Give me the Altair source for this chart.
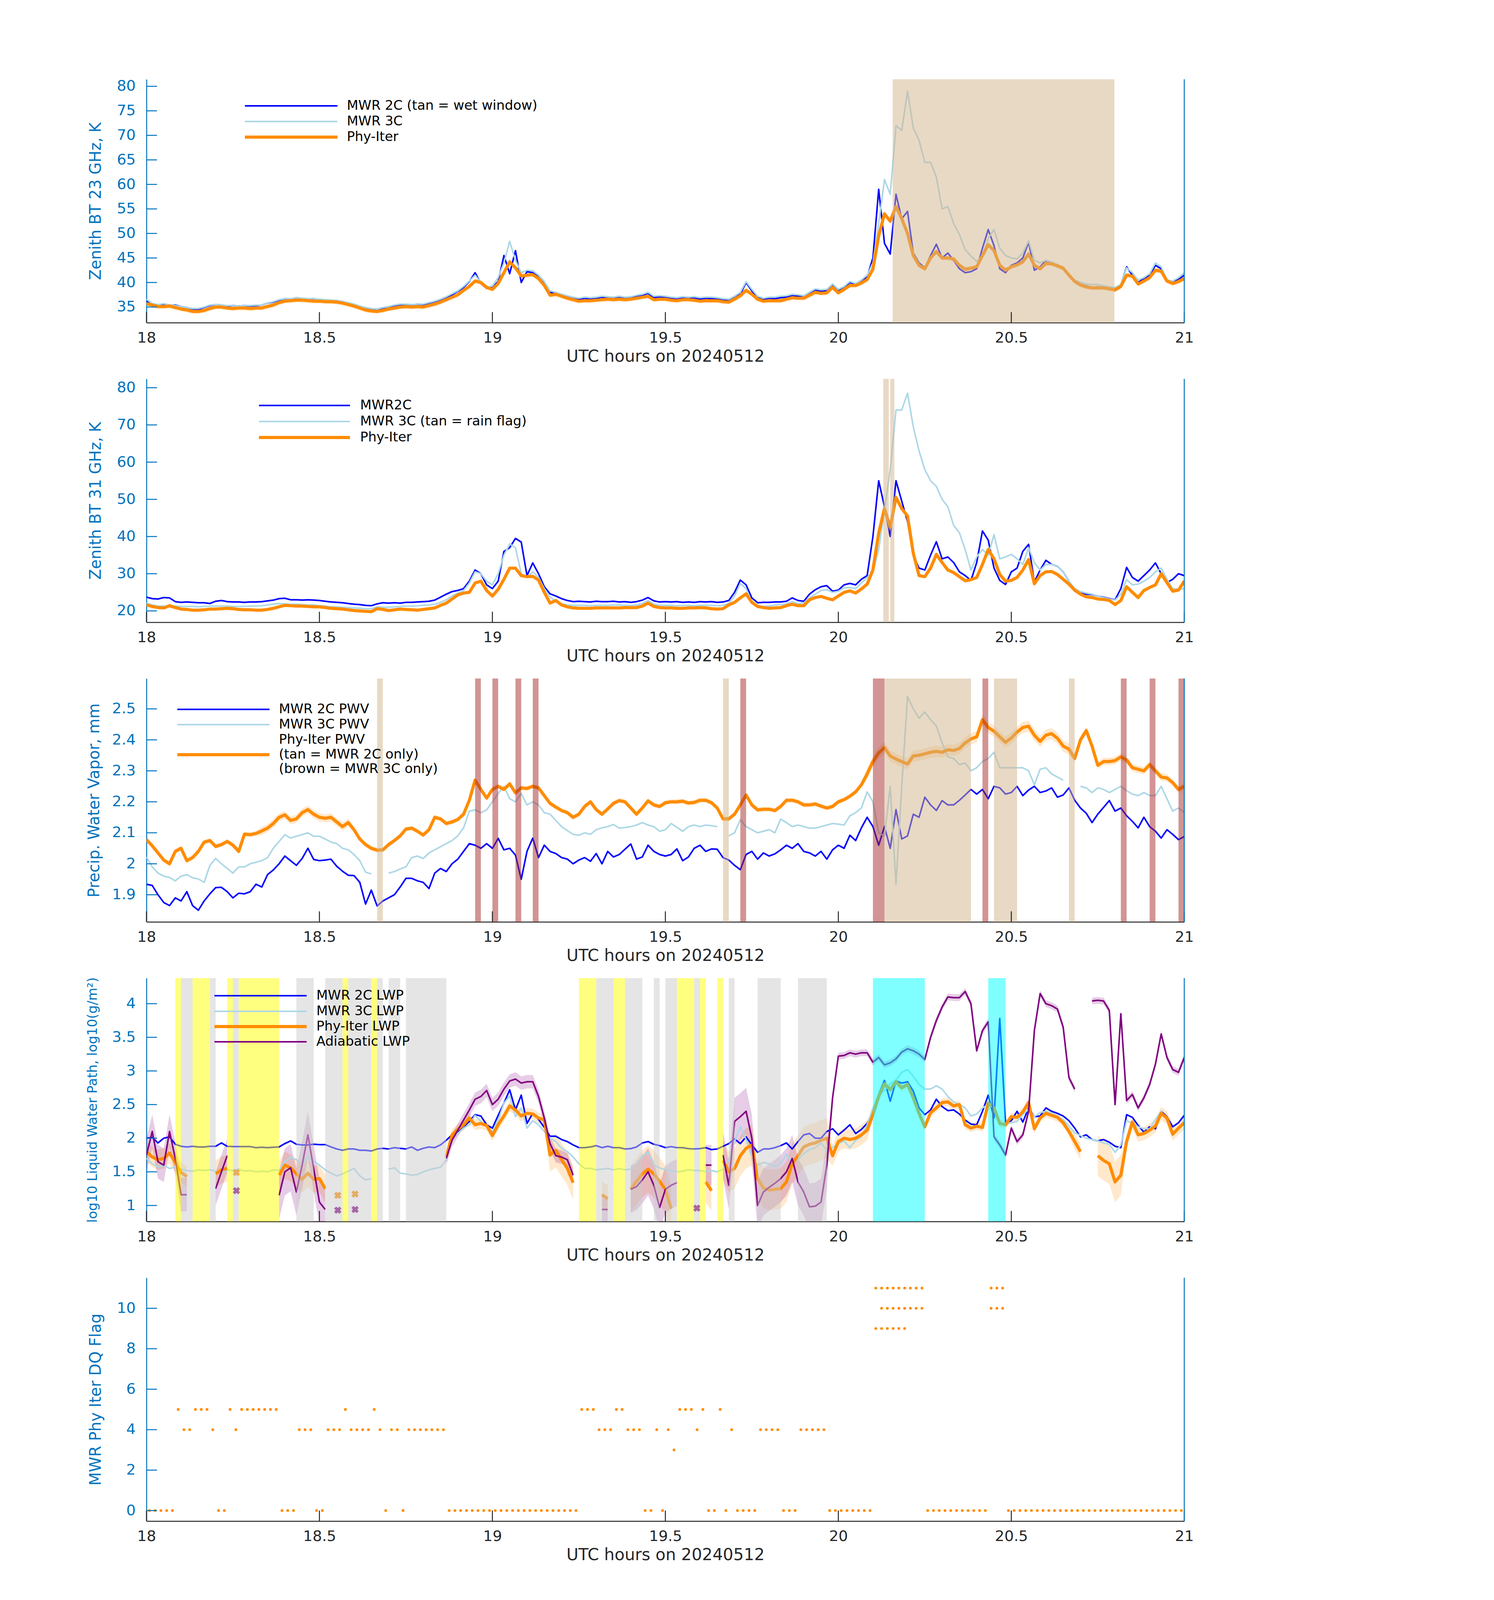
import altair as alt
import pandas as pd

FONT = "DejaVu Sans"
AX_BLUE = "#0072BD"
AX_DARK = "#262626"
C_2C = "#0000FF"
C_3C = "#ADD8E6"
C_PHY = "#FF8C00"
C_ADI = "#800080"

# layout: the photograph is limited to 4096 px in height, so the vertical layout of the
# 6000 px reference is compressed by VS while horizontal positions are kept.
VS = 4096 / 6000
W = 2657
H = round(912 * VS)
TICK_LEN = 27
TICK_FONT = 38
XTITLE_FONT = 42
YTITLE_FONT = 40
LEG_FONT = 34

HOURS = [18 + g / 60 for g in range(181)]
X_TICKS = [18, 18.5, 19, 19.5, 20, 20.5, 21]
X_TITLE = "UTC hours on 20240512"

# ---------------- Panel 1 : 23 GHz brightness temperature ----------------
P1_TITLE = "Zenith BT 23 GHz, K"
P1_DOMAIN = [31.81, 81.43]
P1_TICKS = [35, 40, 45, 50, 55, 60, 65, 70, 75, 80]
P1_2C = [
    36.2, 35.6, 35.4, 35.6, 35.3, 35.4, 35.1, 34.9, 34.6, 34.5,
    34.9, 35.3, 35.5, 35.4, 35.2, 35.3, 35.2, 35.3, 35.2, 35.3,
    35.4, 35.8, 36.0, 36.4, 36.7, 36.6, 36.9, 36.7, 36.6, 36.7,
    36.5, 36.4, 36.3, 36.3, 36.1, 35.8, 35.5, 35.1, 34.8, 34.6,
    34.4, 34.8, 35.0, 35.3, 35.5, 35.5, 35.4, 35.6, 35.5, 35.8,
    36.1, 36.5, 37.0, 37.5, 38.2, 39.0, 40.2, 42.0, 39.8, 38.8,
    39.0, 40.2, 45.5, 41.8, 46.5, 40.0, 42.2, 42.0, 41.2, 40.0,
    38.0, 37.8, 37.4, 37.1, 36.8, 36.5, 36.8, 36.6, 36.8, 37.0,
    36.9, 36.7, 37.0, 36.8, 36.9, 37.3, 37.4, 37.8, 36.9, 37.1,
    36.9, 36.8, 36.6, 36.9, 36.8, 36.9, 36.6, 36.8, 36.7, 36.6,
    36.4, 36.3, 37.0, 37.6, 40.0, 38.3, 36.9, 36.5, 36.8, 36.7,
    36.9, 37.0, 37.3, 37.2, 37.1, 37.8, 38.5, 38.2, 38.3, 39.5,
    38.3, 39.0, 40.0, 39.6, 40.3, 41.2, 45.0, 59.0, 48.0, 45.8,
    58.0, 53.0, 54.5, 46.0, 44.0, 43.0, 45.5, 47.8, 45.0, 46.0,
    44.5, 42.8, 42.0, 42.2, 42.8, 47.0, 50.8, 47.5, 42.8, 42.0,
    43.5, 44.0, 45.0, 48.2, 42.5, 43.2, 44.5, 44.0, 43.5, 43.0,
    41.5, 40.3, 39.6, 39.3, 39.0, 39.1, 39.0, 38.9, 38.8, 39.5,
    43.2, 41.5, 40.0, 40.8, 41.5, 43.5, 42.8, 40.5, 40.0, 40.6, 41.5,
]
P1_3C = [
    36.6, 35.7, 35.5, 35.7, 35.4, 35.3, 35.1, 34.9, 34.7, 34.7,
    35.0, 35.4, 35.5, 35.4, 35.3, 35.3, 35.2, 35.3, 35.3, 35.4,
    35.4, 35.8, 36.1, 36.5, 36.7, 36.7, 36.9, 36.8, 36.7, 36.7,
    36.6, 36.5, 36.4, 36.3, 36.1, 35.9, 35.6, 35.2, 34.9, 34.7,
    34.6, 34.9, 35.1, 35.4, 35.6, 35.6, 35.5, 35.6, 35.6, 35.9,
    36.2, 36.6, 37.1, 37.7, 38.3, 39.2, 40.3, 41.5, 40.0, 39.0,
    39.3, 41.0, 44.0, 48.4, 44.5, 42.0, 42.5, 42.4, 41.5, 40.2,
    38.3, 38.0, 37.6, 37.3, 37.0, 36.8, 37.0, 36.9, 37.0, 37.2,
    37.1, 37.0, 37.2, 37.0, 37.1, 37.4, 37.6, 38.0, 37.2, 37.3,
    37.2, 37.0, 36.9, 37.1, 37.0, 37.1, 36.9, 37.0, 37.0, 36.9,
    36.7, 36.6, 37.2, 38.0, 40.2, 38.6, 37.2, 36.8, 37.0, 37.0,
    37.2, 37.3, 37.6, 37.5, 37.3, 38.0, 38.7, 38.5, 38.6, 39.7,
    38.6, 39.2, 40.2, 39.8, 40.5, 41.5, 44.0, 52.0, 61.0, 58.0,
    72.0, 71.0, 79.0, 71.5, 69.0, 64.5, 64.5, 61.5, 55.0, 55.5,
    52.0, 49.8, 46.7, 45.4, 44.3, 45.5, 49.0, 50.8, 47.0, 45.5,
    45.0, 44.8, 46.0, 48.5, 44.5, 44.0, 44.5, 44.2, 43.6, 43.0,
    41.6, 40.5, 40.0, 39.7, 39.6, 39.6, 39.3, 39.1, 39.0, 39.6,
    43.0, 42.0, 40.5, 41.0, 41.8, 44.0, 43.2, 40.5, 40.3, 41.0, 42.0,
]
P1_PHY = [
    35.7, 35.4, 35.1, 35.1, 35.2, 34.9, 34.6, 34.4, 34.1, 34.1,
    34.3, 34.7, 35.0, 35.0, 34.8, 34.7, 34.8, 34.8, 34.7, 34.8,
    34.8, 35.1, 35.4, 35.9, 36.2, 36.3, 36.4, 36.4, 36.3, 36.2,
    36.2, 36.1, 36.1, 36.0, 35.8, 35.5, 35.2, 34.8, 34.4, 34.2,
    34.1, 34.3, 34.6, 34.8, 35.0, 35.1, 35.0, 35.1, 35.0, 35.3,
    35.6, 36.0, 36.5, 37.0, 37.5, 38.4, 39.2, 40.3, 40.0, 39.0,
    38.6, 39.8, 42.0, 44.2, 43.0, 41.3, 41.5, 41.6, 40.8, 39.4,
    37.4, 37.6, 37.2, 36.8, 36.5, 36.2, 36.3, 36.3, 36.4, 36.5,
    36.6, 36.5, 36.6, 36.5, 36.6, 36.8, 37.0, 37.2, 36.5, 36.6,
    36.6, 36.4, 36.3, 36.5, 36.5, 36.4, 36.2, 36.3, 36.3, 36.3,
    36.1, 36.0, 36.6, 37.3, 38.4, 37.6, 36.6, 36.2, 36.3, 36.3,
    36.3, 36.6, 36.9, 36.8, 36.8, 37.4, 38.0, 37.8, 37.9, 39.0,
    37.9, 38.6, 39.4, 39.4, 39.9, 40.6, 42.7, 49.5, 54.0, 52.5,
    55.5, 53.0, 50.0, 45.5, 43.5, 42.8, 45.0, 46.3, 45.0, 45.0,
    44.8, 43.5, 42.7, 42.9, 43.2, 45.5, 47.7, 46.5, 43.5, 42.5,
    43.2, 43.6, 44.2, 45.8, 43.5, 42.8, 43.9, 43.8, 43.4, 42.9,
    41.5, 40.2, 39.5, 39.1, 38.9, 38.9, 38.9, 38.7, 38.5, 39.2,
    41.5, 41.3, 39.7, 40.3, 41.0, 42.5, 42.3, 40.3, 39.8, 40.2, 40.8,
]
P1_PHY_UNC = [(0, 180, 0.5)]
P1_WET = [(20.157, 20.798)]

# ---------------- Panel 2 : 31 GHz brightness temperature ----------------
P2_TITLE = "Zenith BT 31 GHz, K"
P2_DOMAIN = [16.95, 82.37]
P2_TICKS = [20, 30, 40, 50, 60, 70, 80]
P2_2C = [
    23.7, 23.3, 23.2, 23.6, 23.5, 22.5, 22.3, 22.4, 22.3, 22.2,
    22.2, 22.0, 22.6, 22.8, 22.5, 22.4, 22.4, 22.3, 22.4, 22.4,
    22.5, 22.7, 22.9, 23.3, 23.4, 23.0, 23.0, 22.9, 23.0, 22.9,
    22.8, 22.6, 22.4, 22.3, 22.2, 22.0, 21.8, 21.7, 21.5, 21.4,
    21.9, 22.2, 22.1, 22.2, 22.1, 22.3, 22.3, 22.4, 22.5, 22.6,
    22.9, 23.7, 24.5, 25.2, 25.5, 26.0, 28.0, 31.0, 30.0, 27.0,
    26.0, 28.0, 36.0, 37.0, 39.5, 38.5, 29.5, 32.9, 30.0, 26.5,
    24.6, 24.0, 23.3, 22.8, 22.5, 22.6, 22.5, 22.4, 22.6, 22.5,
    22.5, 22.6, 22.4, 22.5, 22.3, 22.5, 22.9, 23.6, 22.7, 22.4,
    22.5, 22.4, 22.5, 22.3, 22.4, 22.3, 22.5, 22.4, 22.5, 22.3,
    22.4, 22.8, 25.0, 28.3, 27.0, 23.5, 22.2, 22.3, 22.3, 22.4,
    22.4, 22.6, 23.5, 22.8, 22.6, 24.5, 25.7, 26.5, 26.8, 25.3,
    25.6, 27.0, 27.4, 27.0, 28.5, 29.5, 40.0, 55.0, 48.0, 40.0,
    55.0, 49.5, 44.0, 35.0, 31.5, 31.0, 35.0, 38.6, 34.0, 34.5,
    33.0, 30.5, 29.5, 28.2, 33.0, 41.5, 39.0, 31.5, 28.2, 27.1,
    30.5, 31.5, 36.0, 37.9, 27.8, 31.0, 33.6, 32.5, 32.0, 30.5,
    28.0, 25.3, 24.8, 24.5, 24.4, 24.0, 23.7, 23.3, 23.0, 26.0,
    31.7, 29.0, 28.0, 29.5, 31.0, 32.9, 30.0, 27.6, 28.5, 30.0, 29.5,
]
P2_3C = [
    22.1, 21.6, 21.3, 21.3, 21.2, 21.3, 21.2, 21.2, 21.2, 21.1,
    21.2, 21.3, 21.3, 21.3, 21.3, 21.2, 21.2, 21.2, 21.3, 21.3,
    21.4, 21.6, 21.8, 22.0, 21.9, 21.8, 21.8, 21.7, 21.6, 21.6,
    21.4, 21.3, 21.1, 21.1, 21.0, 20.9, 20.8, 20.7, 20.6, 20.6,
    21.1, 21.0, 21.0, 21.1, 21.2, 21.3, 21.3, 21.4, 21.5, 21.6,
    21.8, 22.3, 23.0, 24.0, 24.8, 25.5, 27.5, 30.5, 30.0, 28.0,
    27.0, 30.0, 35.0, 38.0, 37.0, 30.0, 29.0, 30.5, 29.0, 26.0,
    23.8, 22.5, 22.0, 21.6, 21.5, 21.5, 21.5, 21.4, 21.5, 21.5,
    21.5, 21.6, 21.6, 21.5, 21.5, 21.6, 22.0, 22.8, 21.8, 21.5,
    21.5, 21.5, 21.4, 21.5, 21.5, 21.4, 21.5, 21.5, 21.5, 21.4,
    21.5, 22.0, 24.0, 27.4, 26.0, 22.4, 21.3, 21.2, 21.3, 21.6,
    21.7, 21.9, 22.5, 22.0, 22.2, 23.5, 24.5, 25.5, 25.7, 25.0,
    25.3, 26.2, 26.3, 26.0, 27.5, 29.0, 30.5, 36.5, 47.0, 58.0,
    74.0, 74.0, 78.5, 69.5, 63.0, 58.0, 55.0, 53.5, 50.0, 48.0,
    43.0, 41.0, 36.5, 31.0, 34.5, 36.5, 35.0, 40.5, 34.0, 34.5,
    35.2, 34.0, 32.5, 37.0, 33.0, 31.0, 32.5, 32.5, 32.0, 30.5,
    28.0, 26.0, 25.2, 24.8, 24.5, 24.0, 23.6, 23.2, 22.9, 24.5,
    28.4, 27.0, 27.2, 28.0, 29.0, 30.5, 31.5, 28.5, 26.0, 25.8, 26.0,
]
P2_PHY = [
    21.6, 21.2, 20.9, 20.8, 21.4, 20.9, 20.5, 20.4, 20.2, 20.2,
    20.3, 20.5, 20.5, 20.6, 20.7, 20.6, 20.4, 20.3, 20.3, 20.2,
    20.2, 20.4, 20.7, 21.1, 21.5, 21.4, 21.3, 21.3, 21.2, 21.1,
    21.1, 20.9, 20.7, 20.6, 20.5, 20.3, 20.1, 20.0, 19.9, 19.8,
    20.6, 20.4, 20.1, 20.3, 20.5, 20.4, 20.3, 20.2, 20.4, 20.6,
    20.8, 21.5, 22.1, 23.2, 24.3, 24.8, 25.0, 27.5, 28.0, 25.5,
    24.0, 25.8, 28.5, 31.5, 31.5, 29.5, 29.2, 29.3, 28.3, 25.0,
    22.1, 22.8, 21.6, 21.1, 20.8, 20.7, 20.7, 20.7, 20.8, 20.8,
    20.8, 20.8, 20.8, 20.9, 20.9, 20.9, 21.3, 22.1, 21.2, 20.9,
    20.8, 20.8, 20.7, 20.7, 20.8, 20.8, 20.9, 20.8, 20.6, 20.5,
    20.6, 21.6, 22.3, 23.5, 24.6, 22.3, 21.2, 20.9, 20.7, 20.8,
    20.9, 21.4, 21.8, 21.4, 21.4, 23.0, 23.6, 23.9, 23.4, 23.0,
    24.0, 25.0, 25.4, 24.8, 25.9, 27.2, 31.0, 40.9, 47.5, 42.5,
    50.5, 47.5, 45.5, 35.5, 29.5, 29.2, 31.5, 35.2, 33.0, 31.0,
    30.3, 29.2, 28.1, 28.4, 29.0, 32.5, 36.5, 34.0, 29.8, 28.0,
    28.2, 29.0, 31.0, 33.8, 27.3, 29.5, 30.5, 30.6, 29.8, 28.5,
    27.2, 25.6, 24.5, 23.8, 23.6, 23.2, 23.1, 22.8, 21.7, 22.8,
    26.5, 25.0, 23.6, 25.5, 26.3, 27.0, 30.0, 27.6, 25.3, 25.6, 28.0,
]
P2_RAIN = [(20.130, 20.146), (20.150, 20.162)]

# ---------------- Panel 3 : precipitable water vapour ----------------
P3_TITLE = "Precip. Water Vapor, mm"
P3_DOMAIN = [1.8125, 2.598]
P3_TICKS = [1.9, 2.0, 2.1, 2.2, 2.3, 2.4, 2.5]
P3_2C = [
    1.934, 1.93, 1.90, 1.875, 1.865, 1.89, 1.88, 1.91, 1.865, 1.85,
    1.88, 1.903, 1.923, 1.924, 1.91, 1.89, 1.905, 1.903, 1.91, 1.934,
    1.925, 1.965, 1.98, 2.0, 2.025, 2.01, 1.995, 2.017, 2.05, 2.014,
    2.01, 2.012, 2.015, 1.992, 1.976, 1.963, 1.962, 1.94, 1.87, 1.915,
    1.864, 1.88, 1.89, 1.90, 1.925, 1.953, 1.953, 1.945, 1.94, 1.92,
    1.97, 1.985, 1.975, 2.0, 2.015, 2.04, 2.065, 2.06, 2.05, 2.065,
    2.05, 2.082, 2.045, 2.05, 2.028, 1.95, 2.04, 2.083, 2.02, 2.06,
    2.04, 2.033, 2.02, 2.015, 2.0, 2.012, 2.02, 2.008, 2.033, 2.0,
    2.04, 2.022, 2.03, 2.047, 2.064, 2.015, 2.022, 2.06, 2.04, 2.03,
    2.025, 2.03, 2.048, 2.01, 2.022, 2.05, 2.06, 2.04, 2.048, 2.047,
    2.02, 2.012, 1.995, 1.981, 2.03, 2.04, 2.015, 2.035, 2.025, 2.032,
    2.045, 2.06, 2.05, 2.065, 2.04, 2.035, 2.025, 2.04, 2.015, 2.045,
    2.06, 2.05, 2.092, 2.075, 2.116, 2.15, 2.12, 2.06, 2.12, 2.05,
    2.175, 2.08, 2.09, 2.16, 2.15, 2.215, 2.19, 2.172, 2.204, 2.19,
    2.19, 2.205, 2.222, 2.24, 2.225, 2.24, 2.21, 2.25, 2.245, 2.225,
    2.23, 2.25, 2.22, 2.238, 2.25, 2.23, 2.235, 2.245, 2.215, 2.222,
    2.245, 2.205, 2.18, 2.163, 2.133, 2.16, 2.182, 2.204, 2.17, 2.18,
    2.155, 2.137, 2.116, 2.15, 2.12, 2.105, 2.083, 2.11, 2.095, 2.078, 2.088,
]
P3_3C = [
    2.022, 1.99, 1.97, 1.96, 1.956, 1.945, 1.96, 1.965, 1.955, 1.951,
    1.94, 1.995, 2.017, 2.0, 1.985, 1.97, 1.99, 1.99, 2.0, 2.005,
    2.01, 2.02, 2.05, 2.072, 2.094, 2.083, 2.089, 2.094, 2.1, 2.089,
    2.089, 2.08, 2.07, 2.065, 2.05, 2.045, 2.03, 2.01, 1.973, 1.967,
    None, None, 1.97, 1.975, 1.983, 1.99, 2.02, 2.025, 2.017, 2.035,
    2.045, 2.055, 2.065, 2.075, 2.09, 2.116, 2.17, 2.174, 2.165, 2.174,
    2.2, 2.227, 2.25, 2.21, 2.2, 2.227, 2.19, 2.2, 2.19, 2.165,
    2.16, 2.14, 2.12, 2.107, 2.095, 2.092, 2.1, 2.095, 2.11, 2.116,
    2.12, 2.127, 2.115, 2.117, 2.12, 2.125, 2.133, 2.125, 2.12, 2.105,
    2.11, 2.13, 2.118, 2.105, 2.12, 2.125, 2.12, 2.125, 2.123, 2.12,
    None, 2.09, 2.1, 2.142, 2.12, 2.11, 2.1, 2.105, 2.11, 2.1,
    2.144, 2.133, 2.12, 2.125, 2.12, 2.115, 2.115, 2.12, 2.125, 2.13,
    2.128, 2.125, 2.155, 2.165, 2.18, 2.232, 2.2, 2.1, 2.09, 2.25,
    1.934, 2.25, 2.54, 2.5, 2.47, 2.49, 2.465, 2.445, 2.39, 2.345,
    2.34, 2.32, 2.325, 2.3, 2.31, 2.33, 2.34, 2.36, 2.31, 2.31,
    2.31, 2.31, 2.31, 2.3, 2.255, 2.305, 2.31, 2.29, 2.28, 2.27,
    None, None, 2.25, 2.245, 2.23, 2.245, 2.24, 2.23, 2.24, 2.25,
    2.236, 2.225, 2.22, 2.23, 2.22, 2.22, 2.25, 2.21, 2.17, 2.18, 2.166,
]
P3_PHY = [
    2.078, 2.058, 2.035, 2.012, 2.0, 2.04, 2.05, 2.01, 2.02, 2.04,
    2.07, 2.075, 2.056, 2.062, 2.072, 2.06, 2.04, 2.096, 2.094, 2.098,
    2.106, 2.115, 2.13, 2.15, 2.158, 2.14, 2.145, 2.165, 2.175, 2.16,
    2.15, 2.147, 2.15, 2.135, 2.12, 2.133, 2.11, 2.08, 2.062, 2.05,
    2.044, 2.045, 2.062, 2.075, 2.09, 2.112, 2.115, 2.105, 2.093, 2.11,
    2.15, 2.145, 2.13, 2.135, 2.143, 2.16, 2.205, 2.27, 2.24, 2.212,
    2.24, 2.25, 2.24, 2.258, 2.229, 2.245, 2.243, 2.25, 2.245, 2.22,
    2.195, 2.183, 2.172, 2.165, 2.15, 2.16, 2.185, 2.2, 2.175, 2.16,
    2.177, 2.195, 2.204, 2.2, 2.18, 2.16, 2.18, 2.203, 2.19, 2.185,
    2.197, 2.2, 2.2, 2.202, 2.196, 2.198, 2.205, 2.205, 2.197, 2.18,
    2.145, 2.145, 2.16, 2.19, 2.222, 2.19, 2.174, 2.176, 2.176, 2.172,
    2.185, 2.205, 2.205, 2.2, 2.19, 2.19, 2.193, 2.186, 2.18, 2.185,
    2.2, 2.207, 2.218, 2.232, 2.255, 2.29, 2.33, 2.358, 2.375, 2.348,
    2.338, 2.33, 2.322, 2.348, 2.35, 2.355, 2.36, 2.363, 2.36, 2.368,
    2.366, 2.372, 2.39, 2.403, 2.41, 2.465, 2.44, 2.428, 2.41, 2.392,
    2.406, 2.425, 2.44, 2.444, 2.415, 2.395, 2.415, 2.42, 2.405, 2.38,
    2.37, 2.34, 2.40, 2.43, 2.38, 2.318, 2.33, 2.33, 2.333, 2.345,
    2.335, 2.31, 2.305, 2.30, 2.32, 2.3, 2.28, 2.277, 2.262, 2.24, 2.25,
]
P3_PHY_UNC = [(0, 19, 0.008), (20, 35, 0.013), (36, 124, 0.008), (125, 160, 0.018), (161, 180, 0.012)]
P3_TAN_MIN = [40, 100] + list(range(128, 143)) + [147, 148, 149, 150, 160]
P3_BROWN_MIN = [57, 60, 64, 67, 103, 126, 127, 145, 169, 174, 179]

# ---------------- Panel 4 : liquid water path ----------------
P4_TITLE = "log10 Liquid Water Path, log10(g/m²)"
P4_DOMAIN = [0.762, 4.38]
P4_TICKS = [1, 1.5, 2, 2.5, 3, 3.5, 4]
N = None
P4_2C = [
    2.0, 2.01, 1.93, 2.0, 2.02, 1.91, 1.88, 1.87, 1.88, 1.87,
    1.87, 1.88, 1.88, 1.93, 1.88, 1.875, 1.875, 1.875, 1.875, 1.86,
    1.865, 1.86, 1.865, 1.87, 1.92, 1.96, 1.91, 1.9, 1.9, 1.91,
    1.905, 1.905, 1.87, 1.84, 1.82, 1.84, 1.84, 1.82, 1.82, 1.81,
    1.84, 1.85, 1.84, 1.86, 1.85, 1.84, 1.87, 1.82, 1.85, 1.87,
    1.86, 1.9, 1.97, 2.05, 2.1, 2.17, 2.25, 2.35, 2.33, 2.2,
    2.15, 2.34, 2.52, 2.72, 2.42, 2.64, 2.22, 2.37, 2.28, 2.16,
    2.03, 2.03, 1.98, 1.95, 1.9, 1.86, 1.86, 1.87, 1.89, 1.86,
    1.88, 1.86, 1.86, 1.84, 1.845, 1.87, 1.93, 1.95, 1.91, 1.89,
    1.86, 1.875, 1.86, 1.86, 1.845, 1.84, 1.845, 1.86, 1.83, 1.84,
    1.88, 1.92, 1.99, 1.92, 2.02, 1.9, 1.79, 1.84, 1.84, 1.86,
    1.89, 1.93, 1.84, 1.95, 2.05, 2.07, 2.0, 2.0, 2.1, 2.14,
    2.05, 2.12, 2.2, 2.07, 2.13, 2.22, 2.38, 2.65, 2.86, 2.55,
    2.85, 2.82, 2.84, 2.7, 2.45, 2.35, 2.42, 2.58, 2.47, 2.41,
    2.42, 2.36, 2.27, 2.21, 2.2, 2.4, 2.64, 2.3, 3.78, 2.23,
    2.26, 2.4, 2.24, 2.45, 2.32, 2.33, 2.45, 2.4, 2.37, 2.33,
    2.26, 2.15, 2.02, 2.05, 1.98, 1.96, 1.98, 1.94, 1.88, 1.86,
    2.35, 2.31, 2.19, 2.09, 2.17, 2.14, 2.4, 2.32, 2.17, 2.23, 2.34,
]
P4_3C = [
    1.7, 1.62, 1.57, 1.6, 1.55, 1.57, 1.54, 1.52, 1.51, 1.53,
    1.52, 1.53, 1.51, 1.49, 1.53, 1.52, 1.54, 1.51, 1.52, 1.5,
    1.51, 1.5, 1.53, 1.52, 1.65, 1.72, 1.68, 1.62, 1.72, 1.66,
    1.6, 1.53, 1.48, 1.44, 1.47, 1.51, 1.55, 1.44, 1.38, 1.4,
    N, N, 1.54, 1.56, 1.48, 1.47, 1.45, 1.46, 1.5, 1.53,
    1.55, 1.57, 1.68, 2.02, 2.07, 2.15, 2.2, 2.34, 2.25, 2.18,
    2.1, 2.27, 2.52, 2.63, 2.32, 2.45, 2.15, 2.26, 2.2, 2.1,
    2.0, 1.95, 1.85, 1.8, 1.72, 1.62, 1.55, 1.55, 1.53, 1.54,
    1.55, 1.53, 1.55, 1.53, 1.54, 1.62, 1.74, 1.79, 1.6, 1.56,
    1.53, 1.52, 1.5, 1.51, 1.53, 1.52, 1.52, 1.5, 1.52, 1.5,
    1.54, 1.68, 1.95, 2.17, 1.98, 1.72, 1.6, 1.64, 1.62, 1.58,
    1.62, 1.76, 1.65, 1.68, 1.77, 1.83, 1.86, 1.93, 1.82, 1.86,
    1.92, 1.96, 1.86, 1.97, 2.02, 2.2, 2.45, 2.65, 2.71, 2.81,
    2.86, 2.98, 3.02, 2.92, 2.8, 2.73, 2.73, 2.78, 2.73, 2.62,
    2.54, 2.5, 2.45, 2.33, 2.36, 2.45, 2.5, 2.45, 2.2, 2.21,
    2.23, 2.25, 2.35, 2.43, 2.32, 2.38, 2.4, 2.37, 2.33, 2.28,
    2.18, 2.08, 2.04, 2.0, 1.98, 1.96, 1.93, 1.91, 1.79, 1.9,
    2.26, 2.22, 2.17, 2.14, 2.14, 2.28, 2.4, 2.27, 2.04, 2.15, 2.26,
]
P4_PHY = [
    1.8, 1.72, 1.68, 1.7, 1.78, 1.64, 1.49, 1.43, N, N,
    N, N, 1.47, 1.53, 1.55, N, N, N, N, N,
    N, N, N, 1.45, 1.6, 1.56, 1.47, 1.39, 1.48, 1.39,
    1.4, 1.25, N, N, N, N, N, N, N, N,
    N, N, N, N, N, N, N, N, N, N,
    N, N, 1.72, 2.05, 2.13, 2.2, 2.3, 2.2, 2.22, 2.19,
    2.04, 2.2, 2.33, 2.48, 2.42, 2.33, 2.37, 2.36, 2.3, 2.27,
    1.75, 1.82, 1.68, 1.55, 1.34, N, N, N, N, 1.16,
    1.1, N, N, N, 1.24, 1.36, 1.47, 1.54, 1.47, 1.36,
    1.24, 0.95, N, N, N, N, N, 1.35, 1.22, N,
    1.67, 1.5, 1.55, 1.74, 1.85, 1.9, 1.4, 1.26, 1.23, 1.24,
    1.25, 1.35, 1.62, 1.74, 1.87, 1.91, 1.93, 1.97, 2.0, 1.74,
    1.95, 2.0, 1.98, 2.0, 2.05, 2.12, 2.35, 2.62, 2.81, 2.72,
    2.84, 2.75, 2.8, 2.6, 2.37, 2.17, 2.38, 2.45, 2.53, 2.54,
    2.48, 2.5, 2.2, 2.15, 2.18, 2.16, 2.52, 2.45, 2.22, 2.2,
    2.32, 2.31, 2.39, 2.53, 2.14, 2.3, 2.37, 2.34, 2.31, 2.23,
    2.1, 1.95, 1.8, N, N, 1.74, 1.67, 1.62, 1.35, 1.45,
    1.95, 2.24, 2.05, 2.07, 2.12, 2.18, 2.37, 2.3, 2.06, 2.15, 2.23,
]
P4_ADI = [
    1.75, 2.1, 1.65, 1.6, 2.1, 1.7, 1.16, 1.16, N, N,
    N, N, 1.25, 1.5, 1.74, N, N, N, N, N,
    N, N, N, 1.15, 1.5, 1.56, 1.2, 1.6, 2.05, 1.55,
    1.05, 0.94, N, N, N, N, N, N, N, N,
    N, N, N, N, N, N, N, N, N, N,
    N, N, 1.7, 1.97, 2.12, 2.27, 2.42, 2.58, 2.62, 2.71,
    2.5, 2.58, 2.73, 2.85, 2.88, 2.82, 2.84, 2.84, 2.62, 2.3,
    1.92, 1.74, 1.72, 1.68, 1.45, N, N, N, N, 0.94,
    0.94, N, N, N, 1.24, 1.28, 1.38, 1.5, 1.3, 0.97,
    1.24, 1.3, 1.34, N, N, N, N, 1.6, 1.6, N,
    1.75, 1.3, 2.25, 2.32, 2.4, 2.0, 1.0, 1.2, 1.27, 1.33,
    1.4, 1.5, 1.7, 1.35, 1.2, 0.98, 0.99, 1.05, 1.6, 2.6,
    3.22, 3.23, 3.27, 3.25, 3.27, 3.27, 3.13, 3.2, 3.09, 3.12,
    3.18, 3.28, 3.33, 3.3, 3.25, 3.17, 3.5, 3.75, 3.95, 4.1,
    4.09, 4.09, 4.18, 4.0, 3.3, 3.6, 3.73, 2.02, 1.9, 1.75,
    2.15, 1.95, 2.05, 2.4, 3.6, 4.15, 4.0, 3.97, 3.92, 3.65,
    2.9, 2.73, N, N, 4.04, 4.05, 4.04, 3.9, 2.5, 3.85,
    2.56, 2.65, 2.45, 2.6, 2.8, 3.1, 3.55, 3.2, 3.02, 2.98, 3.2,
]
P4_PHY_UNC = [(0, 7, 0.15), (12, 14, 0.2), (23, 31, 0.2), (52, 69, 0.08), (70, 74, 0.25),
              (79, 80, 0.2), (84, 91, 0.35), (97, 98, 0.3), (100, 118, 0.3), (119, 125, 0.15),
              (126, 160, 0.06), (161, 162, 0.12), (165, 169, 0.3), (170, 180, 0.1)]
P4_ADI_UNC = [(0, 7, 0.25), (12, 14, 0.25), (23, 31, 0.35), (52, 74, 0.1), (79, 80, 0.2),
              (84, 92, 0.35), (97, 98, 0.3), (100, 118, 0.35), (119, 180, 0.05)]
P4_PHY_SINGLE = [(18.26, 1.49), (18.553, 1.15), (18.603, 1.17)]
P4_ADI_SINGLE = [(18.26, 1.22), (18.553, 0.93), (18.603, 0.94), (19.591, 0.96)]

# ---------------- Panel 5 : data-quality flag (minute index after 18 UTC) ----------------
P5_TITLE = "MWR Phy Iter DQ Flag"
P5_DOMAIN = [-0.52, 11.51]
P5_TICKS = [0, 2, 4, 6, 8, 10]
FLAG_MIN = {
    0: [0, 1, 2, 3, 4, 12, 13, 23, 24, 25, 29, 30, 41, 44] + list(range(52, 75))
       + [86, 87, 89, 97, 98, 100, 102, 103, 104, 105, 110, 111, 112]
       + list(range(118, 126)) + list(range(135, 146)) + list(range(149, 180)),
    3: [91],
    4: [6, 7, 11, 15, 26, 27, 28, 31, 32, 33, 35, 36, 37, 38, 40, 42, 43] + list(range(45, 52))
       + [78, 79, 80, 83, 84, 85, 88, 90, 95, 101, 106, 107, 108, 109, 113, 114, 115, 116, 117],
    5: [5, 8, 9, 10, 14] + list(range(16, 23)) + [34, 39, 75, 76, 77, 81, 82, 92, 93, 94, 96, 99],
    9: list(range(126, 132)),
    10: list(range(127, 135)) + [146, 147, 148],
    11: list(range(126, 135)) + [146, 147, 148],
}

# ---------------- helpers ----------------
XS = alt.Scale(domain=[18, 21], nice=False, zero=False)


def x_axis():
    return alt.Axis(values=X_TICKS, format=".6~g", title=X_TITLE, ticks=False, labelPadding=20,
                    labelFlush=False, labelOverlap=False, labelFontSize=TICK_FONT,
                    labelColor=AX_DARK, labelFont=FONT, domainColor=AX_DARK, domainWidth=2.5,
                    grid=False, titleFontSize=XTITLE_FONT, titleFontWeight="normal",
                    titleColor=AX_DARK, titleFont=FONT, titleY=66, titleBaseline="top")


def y_axis(title, ticks, tx, tsize):
    return alt.Axis(values=ticks, format=".6~g", title=title, ticks=False, labelPadding=28,
                    labelOverlap=False, labelFontSize=TICK_FONT, labelColor=AX_BLUE,
                    labelFont=FONT, domainColor=AX_BLUE, domainWidth=2.5, grid=False,
                    titleFontSize=tsize, titleFontWeight="normal", titleColor=AX_BLUE,
                    titleFont=FONT, titleX=tx, titleY=H / 2, titleAngle=270,
                    titleBaseline="bottom", titleAlign="center")


def run_lookup(runs, g):
    for a, b, v in runs:
        if a <= g <= b:
            return v
    return 0.0


def line_df(vals, runs=None):
    rows, seg, prev = [], 0, False
    for g, (h, v) in enumerate(zip(HOURS, vals)):
        if v is None:
            if prev:
                seg += 1
            prev = False
            continue
        r = {"hour": h, "value": v, "seg": seg}
        if runs is not None:
            u = run_lookup(runs, g)
            r["lo"] = v - u
            r["hi"] = v + u
        rows.append(r)
        prev = True
    return pd.DataFrame(rows)


def minute_runs(minutes):
    ms = sorted(set(minutes))
    out = []
    for m in ms:
        if out and m == out[-1][1] + 1:
            out[-1][1] = m
        else:
            out.append([m, m])
    return pd.DataFrame({"start": [18 + a / 60 for a, b in out],
                         "end": [18 + (b + 1) / 60 for a, b in out]})


class Panel:
    def __init__(self, title, domain, ticks, tx, tsize=YTITLE_FONT):
        self.ys = alt.Scale(domain=domain, nice=False, zero=False)
        self.yax = y_axis(title, ticks, tx, tsize)
        self.ticks = ticks
        self.layers = []

    def X(self, f):
        return alt.X(f"{f}:Q", scale=XS, axis=x_axis())

    def Y(self, f):
        return alt.Y(f"{f}:Q", scale=self.ys, axis=self.yax)

    def band(self, df, color, opacity=0.2):
        self.layers.append(alt.Chart(df).mark_area(color=color, opacity=opacity, clip=True).encode(
            x=self.X("hour"), y=self.Y("lo"), y2=alt.Y2("hi"), detail="seg:N"))

    def line(self, df, color, width):
        self.layers.append(alt.Chart(df).mark_line(color=color, strokeWidth=width, strokeJoin="round",
                                                   clip=True).encode(
            x=self.X("hour"), y=self.Y("value"), detail="seg:N"))

    def shade(self, df, color, opacity=0.5):
        self.layers.append(alt.Chart(df).mark_rect(color=color, opacity=opacity).encode(
            x=self.X("start"), x2=alt.X2("end"), y=alt.value(0), y2=alt.value(H)))

    def crosses(self, pts, color):
        df = pd.DataFrame({"hour": [p[0] for p in pts], "value": [p[1] for p in pts]})
        self.layers.append(alt.Chart(df).mark_point(shape="cross", angle=45, filled=True, size=360,
                                                    color=color, opacity=1).encode(
            x=self.X("hour"), y=self.Y("value")))

    def points(self, df, color):
        self.layers.append(alt.Chart(df).mark_point(shape="circle", filled=True, size=50,
                                                    color=color, opacity=1).encode(
            x=self.X("hour"), y=self.Y("value")))

    def frame(self):
        self.layers.append(alt.Chart(pd.DataFrame({"t": X_TICKS})).mark_rule(
            color=AX_DARK, strokeWidth=2.5).encode(
            x=self.X("t"), y=alt.value(H), y2=alt.value(H - TICK_LEN)))
        self.layers.append(alt.Chart(pd.DataFrame({"v": self.ticks})).mark_rule(
            color=AX_BLUE, strokeWidth=2.5).encode(
            y=self.Y("v"), x=alt.value(0), x2=alt.value(TICK_LEN)))
        self.layers.append(alt.Chart(pd.DataFrame({"a": [0]})).mark_rule(
            color=AX_BLUE, strokeWidth=2.5).encode(
            x=alt.value(W), y=alt.value(0), y2=alt.value(H)))

    def legend(self, entries, x1, x2, tx):
        for label, color, width, yy in entries:
            ypx = round(yy * VS)
            if color is not None:
                self.layers.append(alt.Chart(pd.DataFrame({"label": [label]})).mark_rule(
                    color=color, strokeWidth=width, strokeCap="butt").encode(
                    x=alt.value(x1), x2=alt.value(x2), y=alt.value(ypx)))
            self.layers.append(alt.Chart(pd.DataFrame({"label": [label]})).mark_text(
                align="left", baseline="middle", fontSize=LEG_FONT, font=FONT,
                color="black").encode(x=alt.value(tx), y=alt.value(ypx), text="label:N"))

    def chart(self):
        return alt.layer(*self.layers).properties(width=W, height=H)


# ---- panel 1
p1 = Panel(P1_TITLE, P1_DOMAIN, P1_TICKS, -110)
p1.band(line_df(P1_PHY, P1_PHY_UNC), C_PHY)
p1.line(line_df(P1_2C), C_2C, 4)
p1.line(line_df(P1_3C), C_3C, 4)
p1.line(line_df(P1_PHY), C_PHY, 8)
p1.shade(pd.DataFrame({"start": [a for a, b in P1_WET], "end": [b for a, b in P1_WET]}), "#D2B48C")
p1.frame()
p1.legend([("MWR 2C (tan = wet window)", C_2C, 4, 99), ("MWR 3C", C_3C, 4, 158),
           ("Phy-Iter", C_PHY, 8, 217)], 252, 489, 513)

# ---- panel 2
p2 = Panel(P2_TITLE, P2_DOMAIN, P2_TICKS, -110)
p2.line(line_df(P2_2C), C_2C, 4)
p2.line(line_df(P2_3C), C_3C, 4)
p2.line(line_df(P2_PHY), C_PHY, 8)
p2.shade(pd.DataFrame({"start": [a for a, b in P2_RAIN], "end": [b for a, b in P2_RAIN]}), "#D2B48C")
p2.frame()
p2.legend([("MWR2C", C_2C, 4, 100), ("MWR 3C (tan = rain flag)", C_3C, 4, 159),
           ("Phy-Iter", C_PHY, 8, 219)], 288, 521, 547)

# ---- panel 3
p3 = Panel(P3_TITLE, P3_DOMAIN, P3_TICKS, -114)
p3.band(line_df(P3_PHY, P3_PHY_UNC), C_PHY)
p3.line(line_df(P3_2C), C_2C, 4)
p3.line(line_df(P3_3C), C_3C, 4)
p3.line(line_df(P3_PHY), C_PHY, 8)
p3.shade(minute_runs(P3_TAN_MIN), "#D2B48C")
p3.shade(minute_runs(P3_BROWN_MIN), "#A52A2A")
p3.frame()
p3.legend([("MWR 2C PWV", C_2C, 4, 115), ("MWR 3C PWV", C_3C, 4, 173),
           ("Phy-Iter PWV", None, 0, 230), ("(tan = MWR 2C only)", C_PHY, 8, 286),
           ("(brown = MWR 3C only)", None, 0, 340)], 79, 315, 339)

# ---- panel 4
p4 = Panel(P4_TITLE, P4_DOMAIN, P4_TICKS, -121, 34)
p4.band(line_df(P4_PHY, P4_PHY_UNC), C_PHY)
p4.band(line_df(P4_ADI, P4_ADI_UNC), C_ADI)
p4.line(line_df(P4_2C), C_2C, 4)
p4.line(line_df(P4_3C), C_3C, 4)
p4.line(line_df(P4_PHY), C_PHY, 8)
p4.line(line_df(P4_ADI), C_ADI, 4)
p4.crosses(P4_PHY_SINGLE, C_PHY)
p4.crosses(P4_ADI_SINGLE, C_ADI)
p4.shade(minute_runs(FLAG_MIN[5]), "#FFFF00")
p4.shade(minute_runs(FLAG_MIN[3] + FLAG_MIN[4]), "#CCCCCC")
p4.shade(minute_runs(FLAG_MIN[9] + FLAG_MIN[10] + FLAG_MIN[11]), "#00FFFF")
p4.frame()
p4.legend([("MWR 2C LWP", C_2C, 4, 66), ("MWR 3C LWP", C_3C, 4, 124),
           ("Phy-Iter LWP", C_PHY, 8, 182), ("Adiabatic LWP", C_ADI, 4, 239)], 174, 410, 435)

# ---- panel 5
p5 = Panel(P5_TITLE, P5_DOMAIN, P5_TICKS, -110)
flag_rows = [{"hour": 18 + (m + 0.5) / 60, "value": f} for f, ms in FLAG_MIN.items() for m in ms]
p5.points(pd.DataFrame(flag_rows), C_PHY)
p5.frame()

chart = alt.vconcat(p1.chart(), p2.chart(), p3.chart(), p4.chart(), p5.chart(),
                    spacing=round(1124 * VS) - H, bounds="flush").properties(
    padding={"left": 211, "top": round(295 * VS) - 8, "right": 20, "bottom": 20}
).configure(font=FONT).configure_view(stroke="transparent")

chart.save("out.html", embed_options={"renderer": "svg", "actions": False})
